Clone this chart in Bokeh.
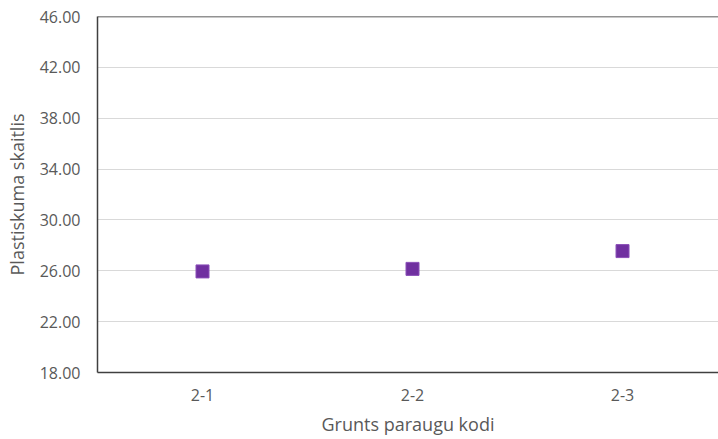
from bokeh.plotting import figure
from bokeh.models import Range1d, FixedTicker, Span
from bokeh.embed import file_html
from bokeh.resources import INLINE

categories = ["2-1", "2-2", "2-3"]
values = [25.95, 26.15, 27.55]
y_ticks = [18, 22, 26, 30, 34, 38, 42, 46]

xs = list(range(1, len(categories) + 1))

p = figure(width=718, height=438, output_backend="svg", toolbar_location=None,
           x_range=Range1d(0.5, 3.457), y_range=Range1d(18, 46),
           min_border_left=97, min_border_right=0, min_border_top=16, min_border_bottom=63)
p.outline_line_color = None
p.background_fill_color = "white"
p.border_fill_color = "white"

p.scatter(xs, values, marker="square", size=13, fill_color="#7030A0", line_color="#8a4fb8", line_width=1)

font = "Open Sans"
lab_color = "#595959"

p.yaxis.ticker = FixedTicker(ticks=y_ticks)
p.yaxis.major_label_overrides = {t: f"{t:.2f}" for t in y_ticks}
p.yaxis.axis_label = "Plastiskuma skaitlis"
p.xaxis.ticker = FixedTicker(ticks=xs)
p.xaxis.major_label_overrides = {x: c for x, c in zip(xs, categories)}
p.xaxis.axis_label = "Grunts paraugu kodi"

for ax in (p.xaxis, p.yaxis):
    ax.major_tick_line_color = None
    ax.minor_tick_line_color = None
    ax.major_tick_out = 0
    ax.major_tick_in = 0
    ax.axis_line_color = "#404040"
    ax.axis_line_width = 1.5
    ax.major_label_text_font = font
    ax.major_label_text_font_size = "16px"
    ax.major_label_text_color = lab_color
    ax.axis_label_text_font = font
    ax.axis_label_text_font_size = "18px"
    ax.axis_label_text_font_style = "normal"
    ax.axis_label_text_color = lab_color

p.yaxis.major_label_standoff = 17
p.xaxis.major_label_standoff = 16
p.xaxis.axis_label_standoff = 8
p.yaxis.axis_label_standoff = 8

p.xgrid.grid_line_color = None
p.ygrid.grid_line_color = "#d9d9d9"
p.ygrid.grid_line_width = 1

p.add_layout(Span(location=46, dimension="width", line_color="#262626", line_width=1.5))

open("out.html", "w").write(file_html(p, INLINE))
